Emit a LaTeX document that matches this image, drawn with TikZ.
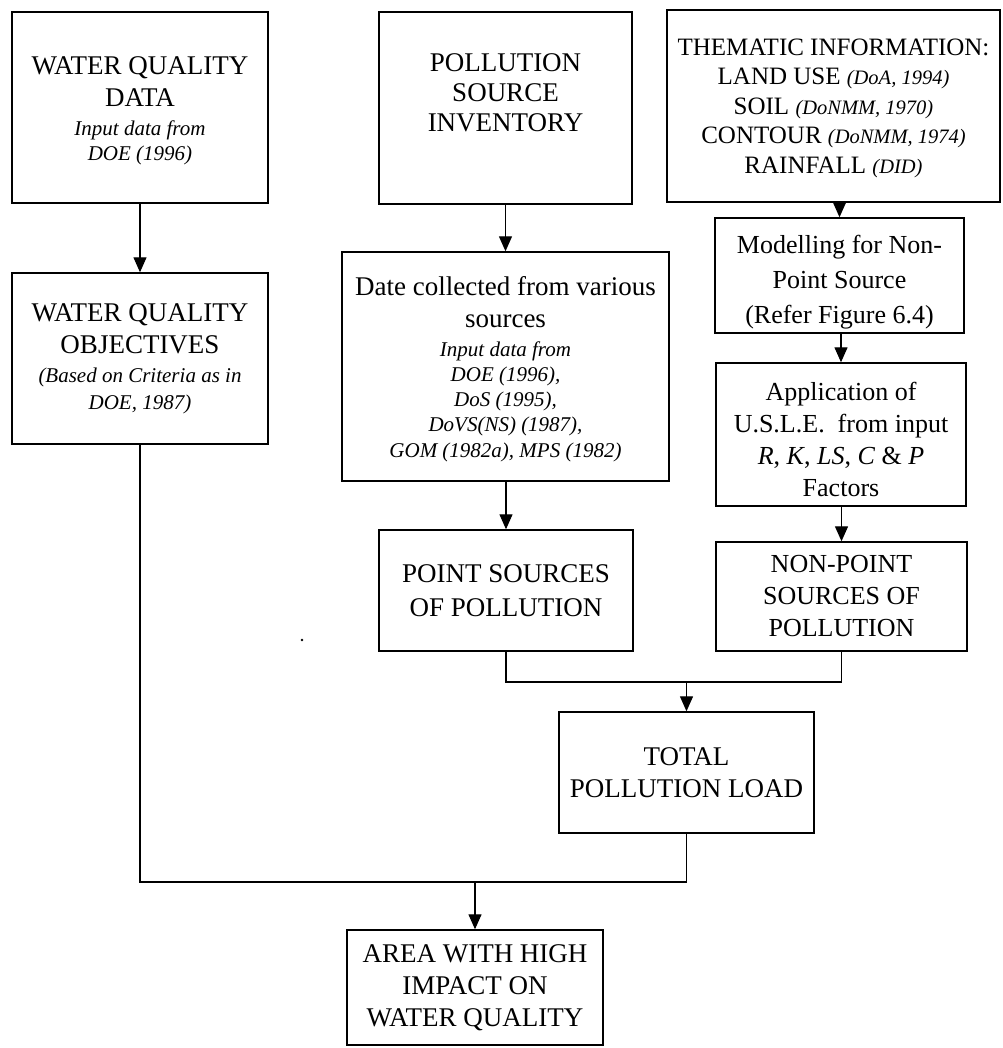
\documentclass[tikz,border=0pt]{standalone}
\usepackage{fontspec}
\setmainfont{Liberation Serif}
\usetikzlibrary{arrows.meta}
% italic source references
\newcommand\srcnote[1]{{\fontsize{21}{25}\selectfont\itshape #1}}
\newcommand\thnote[1]{{\fontsize{20.5}{24}\selectfont\itshape #1}}
% invisible strut that lowers a text block
\newcommand\topgap[1]{\rule{0pt}{#1}}
\begin{document}
\begin{tikzpicture}[x=1pt,y=-1pt,
  box/.style={draw, line width=1.4pt, inner sep=0pt, align=center,
    font=\fontsize{27}{32}\selectfont},
  rbox/.style={box, font=\fontsize{26}{32}\selectfont},
  conn/.style={line width=1.2pt},
  arr/.style={conn, -{Triangle[length=15pt,width=13pt]}}]
\useasboundingbox (0,0) rectangle (1002,1048);

% left column
\node[box, minimum width=256pt, minimum height=191pt] (wqd) at (140,107.5)
  {\topgap{24pt}WATER QUALITY\\DATA\\[-3pt]\srcnote{Input data from}\\[-7pt]\srcnote{DOE (1996)}};
\node[box, minimum width=256pt, minimum height=171pt] (wqo) at (140,358.5)
  {WATER QUALITY\\OBJECTIVES\\[-3pt]\srcnote{(Based on Criteria as in}\\[-5pt]\srcnote{DOE, 1987)}};

% middle column
\node[box, minimum width=253pt, minimum height=192pt, font=\fontsize{27}{30}\selectfont] (psi) at (505.5,108)
  {POLLUTION\\SOURCE\\INVENTORY\\\mbox{}};
\node[box, minimum width=327pt, minimum height=229pt] (date) at (505.5,366.5)
  {\topgap{25pt}Date collected from various\\sources\\[-3pt]\srcnote{Input data from}\\[-7pt]\srcnote{DOE (1996),}\\[-7pt]\srcnote{DoS (1995),}\\[-7pt]\srcnote{DoVS(NS) (1987),}\\[-6pt]\srcnote{GOM (1982a), MPS (1982)}};
\node[box, minimum width=254pt, minimum height=121pt] (point) at (506,590.5)
  {POINT SOURCES\\[2pt]OF POLLUTION};

% right column
\node[box, minimum width=333pt, minimum height=192pt, font=\fontsize{25}{29.5}\selectfont] (them) at (833.5,106)
  {\topgap{21pt}THEMATIC INFORMATION:\\LAND USE \thnote{(DoA, 1994)}\\SOIL \thnote{(DoNMM, 1970)}\\CONTOUR \thnote{(DoNMM, 1974)}\\RAINFALL \thnote{(DID)}};
\node[rbox, minimum width=249pt, minimum height=115pt, font=\fontsize{26}{35}\selectfont] (model) at (839.5,275.5)
  {\topgap{32pt}Modelling for Non-\\Point Source\\(Refer Figure 6.4)};
\node[rbox, minimum width=250pt, minimum height=143pt] (app) at (841,434.5)
  {\topgap{28pt}Application of\\U.S.L.E.\ \ from input\\\textit{R}, \textit{K}, \textit{LS}, \textit{C} \& \textit{P}\\Factors};
\node[rbox, minimum width=251pt, minimum height=109pt] (nonpt) at (841.5,596.5)
  {NON-POINT\\SOURCES OF\\POLLUTION};

% lower part
\node[box, minimum width=255pt, minimum height=121pt] (total) at (686.5,772.5)
  {TOTAL\\POLLUTION LOAD};
\node[box, minimum width=256pt, minimum height=115pt] (area) at (475,987.5)
  {AREA WITH HIGH\\IMPACT ON\\WATER QUALITY};

% junction points
\coordinate (m1) at (686.5,682);
\coordinate (m2) at (475,882);

% connectors
\draw[arr] (wqd) -- (wqo);
\draw[arr] (psi.south) -- (psi.south |- date.north);
\draw[arr] (date.south -| point.north) -- (point.north);
\draw[arr] (them.south -| model.north) -- (model.north);
\draw[arr] (model.south -| app.north) -- (app.north);
\draw[arr] (app.south -| nonpt.north) -- (nonpt.north);
\draw[conn] (point.south) |- (m1) -| (nonpt.south);
\draw[arr] (m1) -- (total.north);
\draw[conn] (wqo.south) |- (m2) -| (total.south);
\draw[arr] (m2) -- (area.north);

% small speck
\fill (302,640) circle (1.4pt);
\end{tikzpicture}
\end{document}
